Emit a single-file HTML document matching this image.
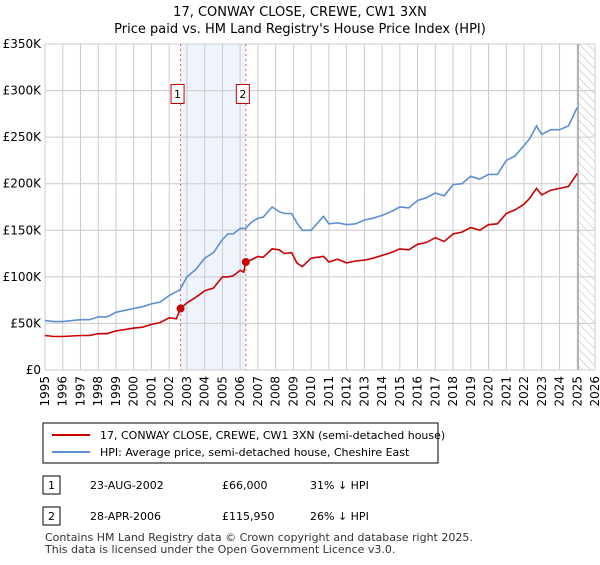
<!DOCTYPE html>
<html><head><meta charset="utf-8"><style>
body{margin:0;background:#fff;font-family:"Liberation Sans",sans-serif;}
svg text{font-family:"DejaVu Sans","Liberation Sans",sans-serif;}
</style></head><body>
<svg width="600" height="560">
<defs><pattern id="hatch" width="6" height="6" patternUnits="userSpaceOnUse" patternTransform="rotate(-45)"><line x1="0" y1="0" x2="0" y2="6" stroke="#bbb" stroke-width="1"/></pattern></defs>
<text x="300" y="16" text-anchor="middle" font-size="13">17, CONWAY CLOSE, CREWE, CW1 3XN</text>
<text x="300" y="33" text-anchor="middle" font-size="13">Price paid vs. HM Land Registry's House Price Index (HPI)</text>
<g id="grid"></g><g id="plot"></g><g id="axes"></g>
<rect x="43" y="423" width="395" height="40" fill="#fff" stroke="#000"/>
<line x1="52" y1="435" x2="90" y2="435" stroke="#cc0000" stroke-width="2"/>
<text x="100" y="439" font-size="11">17, CONWAY CLOSE, CREWE, CW1 3XN (semi-detached house)</text>
<line x1="52" y1="452" x2="90" y2="452" stroke="#5b8fd6" stroke-width="2"/>
<text x="100" y="456" font-size="11">HPI: Average price, semi-detached house, Cheshire East</text>
<rect x="43" y="476" width="17" height="18" fill="#fff" stroke="#000"/>
<text x="51.5" y="489" font-size="11" text-anchor="middle">1</text>
<text x="90" y="489" font-size="11">23-AUG-2002</text>
<text x="222" y="489" font-size="11">£66,000</text>
<text x="310" y="489" font-size="11">31% ↓ HPI</text>
<rect x="43" y="507" width="17" height="18" fill="#fff" stroke="#000"/>
<text x="51.5" y="520" font-size="11" text-anchor="middle">2</text>
<text x="90" y="520" font-size="11">28-APR-2006</text>
<text x="222" y="520" font-size="11">£115,950</text>
<text x="310" y="520" font-size="11">26% ↓ HPI</text>
<text x="45" y="541" font-size="11" fill="#333">Contains HM Land Registry data © Crown copyright and database right 2025.</text>
<text x="45" y="553" font-size="11" fill="#333">This data is licensed under the Open Government Licence v3.0.</text>
</svg>
<script>
const yTicks=[0,50,100,150,200,250,300,350];
const yTickLabels=["£0","£50K","£100K","£150K","£200K","£250K","£300K","£350K"];
const xYears=[1995,1996,1997,1998,1999,2000,2001,2002,2003,2004,2005,2006,2007,2008,2009,2010,2011,2012,2013,2014,2015,2016,2017,2018,2019,2020,2021,2022,2023,2024,2025,2026];
const hpiX=[1995,1995.5,1996,1997,1997.5,1998,1998.5,1999,2000,2000.5,2001,2001.5,2002,2002.4,2002.6,2003,2003.5,2004,2004.5,2005,2005.3,2005.6,2006,2006.3,2006.6,2007,2007.3,2007.8,2008.2,2008.5,2008.9,2009.2,2009.5,2010,2010.7,2011,2011.5,2012,2012.5,2013,2013.5,2014,2014.5,2015,2015.5,2016,2016.5,2017,2017.5,2018,2018.5,2019,2019.5,2020,2020.5,2021,2021.5,2022,2022.3,2022.7,2023,2023.5,2024,2024.5,2025];
const hpiY=[53,52,52,54,54,57,57,62,66,68,71,73,80,84,86,100,108,120,126,140,146,146,152,152,158,163,164,175,170,168,168,158,150,150,165,157,158,156,157,161,163,166,170,175,174,182,185,190,187,199,200,208,205,210,210,225,230,241,248,262,253,258,258,262,282];
const redX=[1995,1995.5,1996,1997,1997.5,1998,1998.5,1999,2000,2000.5,2001,2001.5,2002,2002.4,2002.64,2003,2003.5,2004,2004.5,2005,2005.3,2005.6,2006,2006.2,2006.32,2006.6,2007,2007.3,2007.8,2008.2,2008.5,2008.9,2009.2,2009.5,2010,2010.7,2011,2011.5,2012,2012.5,2013,2013.5,2014,2014.5,2015,2015.5,2016,2016.5,2017,2017.5,2018,2018.5,2019,2019.5,2020,2020.5,2021,2021.5,2022,2022.3,2022.7,2023,2023.5,2024,2024.5,2025];
const redY=[37,36,36,37,37,39,39,42,45,46,49,51,56,55,66,72,78,85,88,100,100,101,107,105,116,118,122,121,130,129,125,126,115,111,120,122,116,119,115,117,118,120,123,126,130,129,135,137,142,138,146,148,153,150,156,157,168,172,178,184,195,188,193,195,197,211];
const salesX=[2002.64,2006.32];
const salesY=[66,115.95];
const L=45,R=595,T=44,B=370;
const xs=v=>L+(v-1995)/(2026-1995)*(R-L);
const ys=v=>B-v/350*(B-T);
const NS="http://www.w3.org/2000/svg";
function mk(p,t,a){const e=document.createElementNS(NS,t);for(const k in a)e.setAttribute(k,a[k]);p.appendChild(e);return e;}
const grid=document.getElementById('grid'),plot=document.getElementById('plot'),axes=document.getElementById('axes');
const sh=mk(grid,'rect',{x:xs(salesX[0]),y:T,width:xs(salesX[1])-xs(salesX[0]),height:B-T,fill:'#eef3fc'});


const ht=mk(grid,'rect',{x:xs(2025.05),y:T,width:R-xs(2025.05),height:B-T,fill:'url(#hatch)'});


yTicks.forEach((v,i)=>{
 const g=mk(grid,'line',{x1:L,x2:R,y1:ys(v),y2:ys(v),stroke:'#ccc'});
 
 
 const t=mk(axes,'text',{x:L-4,y:ys(v)+4,'text-anchor':'end','font-size':12});
 t.textContent=yTickLabels[i];
 
 
});
xYears.forEach(y=>{
 const g=mk(grid,'line',{x1:xs(y),x2:xs(y),y1:T,y2:B,stroke:'#ccc'});
 
 
 const t=mk(axes,'text',{x:0,y:0,'font-size':12,'text-anchor':'end',transform:`translate(${xs(y)+4},${B+6}) rotate(-90)`});
 t.textContent=y;
 
 
});
const vl=mk(grid,'line',{x1:xs(2025.05),x2:xs(2025.05),y1:T,y2:B,stroke:'#888'});


salesX.forEach((x,i)=>{
 const d=mk(plot,'line',{x1:xs(x),x2:xs(x),y1:T,y2:B,stroke:'#e06060','stroke-dasharray':'2,3'});
 
 
});
const path=(X,Y)=>X.map((x,i)=>(i?'L':'M')+xs(x).toFixed(1)+','+ys(Y[i]).toFixed(1)).join('');
const hp=mk(plot,'path',{d:path(hpiX,hpiY),fill:'none',stroke:'#5b8fd6','stroke-width':1.6});


const rp=mk(plot,'path',{d:path(redX,redY),fill:'none',stroke:'#cc0000','stroke-width':1.6});


salesX.forEach((x,i)=>{
 const c=mk(plot,'circle',{cx:xs(x),cy:ys(salesY[i]),r:4,fill:'#cc0000'});
 
 
 const b=mk(plot,'rect',{x:xs(x)-9.5,y:84.5,width:13,height:19,fill:'#fff',stroke:'#cc0000'});
 
 
 const t=mk(plot,'text',{x:xs(x)-3,y:98,'font-size':11,'text-anchor':'middle'});
 t.textContent=String(i+1);
 
 
});
</script>
</body></html>
